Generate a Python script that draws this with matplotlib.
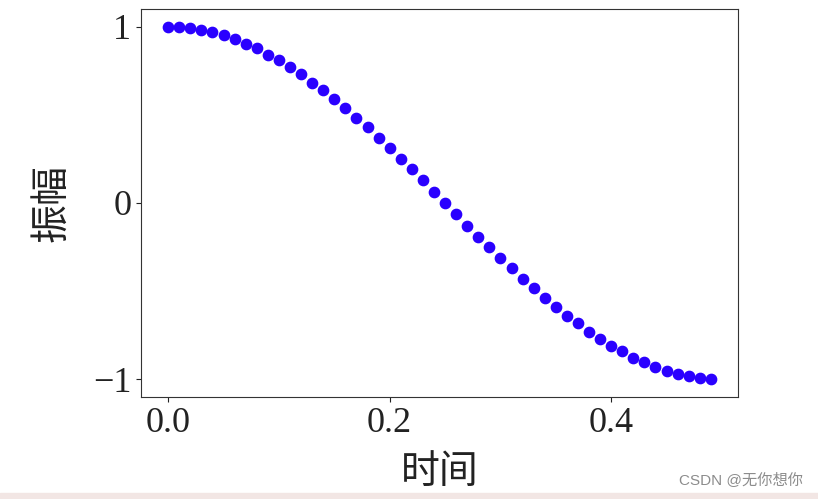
import matplotlib
matplotlib.use("Agg")
import matplotlib.pyplot as plt
from matplotlib.patches import Rectangle

t = [0.00, 0.01, 0.02, 0.03, 0.04, 0.05, 0.06, 0.07, 0.08, 0.09,
     0.10, 0.11, 0.12, 0.13, 0.14, 0.15, 0.16, 0.17, 0.18, 0.19,
     0.20, 0.21, 0.22, 0.23, 0.24, 0.25, 0.26, 0.27, 0.28, 0.29,
     0.30, 0.31, 0.32, 0.33, 0.34, 0.35, 0.36, 0.37, 0.38, 0.39,
     0.40, 0.41, 0.42, 0.43, 0.44, 0.45, 0.46, 0.47, 0.48, 0.49]
amp = [1.00, 1.00, 0.99, 0.98, 0.97, 0.95, 0.93, 0.90, 0.88, 0.84,
       0.81, 0.77, 0.73, 0.68, 0.64, 0.59, 0.54, 0.48, 0.43, 0.37,
       0.31, 0.25, 0.19, 0.13, 0.06, 0.00, -0.06, -0.13, -0.19, -0.25,
       -0.31, -0.37, -0.43, -0.48, -0.54, -0.59, -0.64, -0.68, -0.73, -0.77,
       -0.81, -0.84, -0.88, -0.90, -0.93, -0.95, -0.97, -0.98, -0.99, -1.00]
xticks = [0.0, 0.2, 0.4]
yticks = [-1, 0, 1]

plt.rcParams['font.family'] = ['Liberation Serif', 'Noto Sans CJK SC', 'DejaVu Sans']
plt.rcParams['axes.unicode_minus'] = True

fig = plt.figure(figsize=(8.18, 4.99), dpi=100)
ax = fig.add_axes([0.1724, 0.2044, 0.7298, 0.7776])

ax.scatter(t, amp, s=55, color='#2a00ff', zorder=3)

ax.set_xticks(xticks)
ax.set_yticks(yticks)
ax.tick_params(labelsize=26, colors='#222222')
for s in ax.spines.values():
    s.set_color('#333333')

ax.set_xlabel('时间', fontsize=28, family=['Noto Sans CJK SC'],
              fontweight='light', color='#222222', labelpad=9)
ax.set_ylabel('振幅', fontsize=28, family=['Noto Sans CJK SC'],
              fontweight='light', color='#222222', labelpad=15)

# page decoration from the screenshot
fig.patches.append(Rectangle((0, 0), 1, 6 / 499, transform=fig.transFigure,
                             color='#f2e6e4', zorder=0))
fig.text(0.982, 0.025, 'CSDN @无你想你', ha='right', va='bottom', fontsize=11,
         color='#8c8c8c', family=['Liberation Sans', 'Noto Sans CJK SC'])

fig.savefig('out.png', dpi=100)
